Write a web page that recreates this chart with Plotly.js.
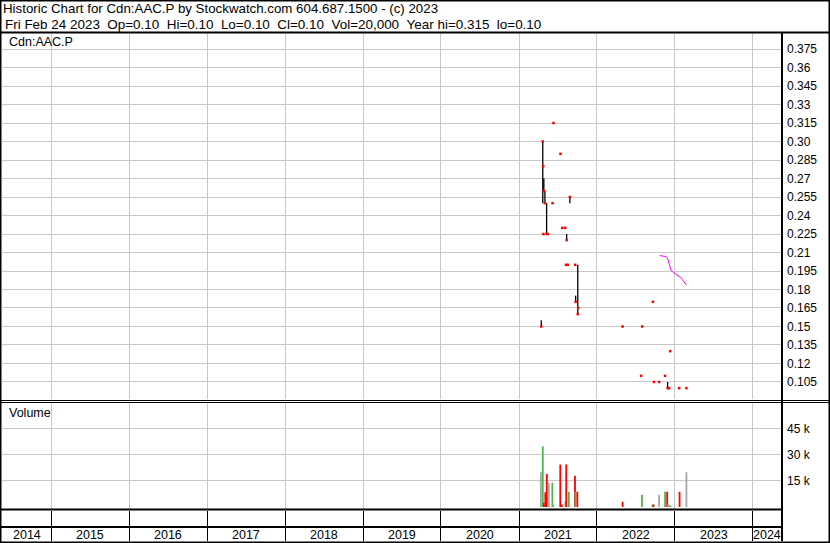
<!DOCTYPE html>
<html><head><meta charset="utf-8">
<script src="https://cdn.plot.ly/plotly-3.0.1.min.js"></script>
<style>html,body{margin:0;padding:0;background:#fff}#chart{width:830px;height:543px}</style>
</head><body><div id="chart"></div>
<script>
// ---------- data ----------
const priceDates = ["2021-04-15","2021-04-22","2021-04-24","2021-04-25","2021-04-27","2021-05-02","2021-05-10","2021-05-15",
  "2021-06-07","2021-06-11","2021-07-14","2021-07-22","2021-08-05","2021-08-09","2021-08-12","2021-08-17","2021-08-27",
  "2021-09-21","2021-09-23","2021-10-03","2021-10-05",
  "2022-05-01","2022-07-27","2022-08-01","2022-09-20","2022-09-25","2022-10-19","2022-11-16","2022-11-28","2022-12-05","2022-12-10",
  "2023-01-21","2023-02-24"];
const priceHigh  = [0.155,0.30,0.28,0.225,0.27,0.26,0.25,0.225,0.25,0.315,0.29,0.23,0.23,0.20,0.225,0.20,0.255,0.20,0.175,0.20,0.165,
  0.15,0.11,0.15,0.17,0.105,0.105,0.11,0.105,0.10,0.13,0.10,0.10];
const priceLow   = [0.15,0.25,0.28,0.225,0.26,0.25,0.225,0.225,0.25,0.315,0.29,0.23,0.23,0.20,0.22,0.20,0.25,0.20,0.169,0.16,0.165,
  0.15,0.11,0.15,0.17,0.105,0.105,0.11,0.10,0.10,0.13,0.10,0.10];
const priceClose = [0.15,0.30,0.28,0.225,0.26,0.25,0.225,0.225,0.25,0.315,0.29,0.23,0.23,0.20,0.22,0.20,0.255,0.20,0.17,0.16,0.165,
  0.15,0.11,0.15,0.17,0.105,0.105,0.11,0.10,0.10,0.13,0.10,0.10];

const maDates  = ["2022-10-21","2022-11-08","2022-11-21","2022-11-29","2022-12-04","2022-12-09","2022-12-13","2022-12-23",
  "2023-01-05","2023-01-16","2023-01-27","2023-02-04","2023-02-11","2023-02-19","2023-02-24"];
const maValues = [0.2075,0.207,0.2067,0.2048,0.2021,0.198,0.1959,0.194,0.1926,0.1915,0.1899,0.1882,0.1866,0.1853,0.1837];

const volDates = ["2021-04-13","2021-04-22","2021-04-27","2021-05-04","2021-05-11","2021-05-20","2021-06-06","2021-06-10",
  "2021-07-13","2021-07-20","2021-08-06","2021-08-10","2021-08-22","2021-09-20","2021-09-22","2021-10-01",
  "2022-05-01","2022-07-31","2022-09-18","2022-09-23","2022-10-19","2022-11-16","2022-11-26","2022-12-01","2022-12-10",
  "2023-01-23","2023-02-24"];
const volValues = [20000,35000,2500,8500,19000,14000,14000,1000,24500,1500,3500,24500,8800,18000,8800,8800,
  3000,7000,1500,1500,7000,8800,8800,1800,1000,8800,20000];
const volDirection = ["flat","up","down","down","down","flat","up","up","down","down","flat","down","up","down","up","down",
  "down","up","up","down","flat","up","down","flat","up","down","flat"];

const priceTickVals = [0.105,0.12,0.135,0.15,0.165,0.18,0.195,0.21,0.225,0.24,0.255,0.27,0.285,0.30,0.315,0.33,0.345,0.36,0.375];
const priceTickText = ["0.105","0.12","0.135","0.15","0.165","0.18","0.195","0.21","0.225","0.24","0.255","0.27","0.285","0.30","0.315","0.33","0.345","0.36","0.375"];
const volTickVals = [15000,30000,45000];
const volTickText = ["15 k","30 k","45 k"];
const yearBoundaries = ["2015-01-01","2016-01-01","2017-01-01","2018-01-01","2019-01-01","2020-01-01","2021-01-01","2022-01-01","2023-01-01","2024-01-01"];
const yearLabels = ["2014","2015","2016","2017","2018","2019","2020","2021","2022","2023","2024"];
const xRange = ["2014-05-15","2024-05-17"];
const infoFields = ["Fri Feb 24 2023","Op=0.10","Hi=0.10","Lo=0.10","Cl=0.10","Vol=20,000","Year hi=0.315","lo=0.10"];

// ---------- helpers ----------
const W = 830, H = 543;
const px = v => v / W;
const py = v => 1 - v / H;
const colorOf = {up:"#4cb84c", down:"#ff0000", flat:"#a6a6a6"};
const DAY = 86400000;

const edges = [xRange[0], ...yearBoundaries, xRange[1]].map(d => new Date(d + "T00:00:00Z").getTime());
const yearMid = yearLabels.map((_, i) => (edges[i] + edges[i + 1]) / 2);

const traces = [
  {type:"bar", x:volDates, y:volValues, xaxis:"x", yaxis:"y2", width:8.5 * DAY,
   marker:{color:volDirection.map(d => colorOf[d]), line:{width:0}}, hoverinfo:"x+y"},
  {type:"scatter", mode:"lines", x:maDates, y:maValues, xaxis:"x", yaxis:"y",
   line:{color:"#ff00ff", width:1}},
  {type:"scatter", mode:"markers", x:priceDates, y:priceClose, xaxis:"x", yaxis:"y",
   marker:{symbol:"square", size:2.5, color:"#ff0000", line:{width:0}},
   error_y:{type:"data", symmetric:false,
     array:priceHigh.map((h, i) => h - priceClose[i]),
     arrayminus:priceClose.map((c, i) => c - priceLow[i]),
     width:0, thickness:1.3, color:"#000"}}
];

const annotations = [
  {text:infoFields.join("\u00a0\u00a0"),
   xref:"paper", yref:"paper", x:px(3), y:py(24.5), xanchor:"left", yanchor:"middle", showarrow:false, font:{size:13.45}},
  {text:"Cdn:AAC.P", xref:"paper", yref:"paper", x:px(7), y:py(42), xanchor:"left", yanchor:"middle", showarrow:false, font:{size:12.5}},
  {text:"Volume", xref:"paper", yref:"paper", x:px(7), y:py(413), xanchor:"left", yanchor:"middle", showarrow:false, font:{size:12.5}}
].concat(yearLabels.map((t, i) => ({text:t, xref:"x2", yref:"paper", x:yearMid[i], y:py(534.5),
   xanchor:"center", yanchor:"middle", showarrow:false, font:{size:12.5}})));

const ln = (x0, y0, x1, y1, w) => ({type:"line", xref:"paper", yref:"paper", x0:x0, y0:y0, x1:x1, y1:y1, line:{color:"#000", width:w}});
const shapes = [
  {type:"rect", xref:"paper", yref:"paper", x0:0, y0:0, x1:1, y1:1, line:{color:"#000", width:3}},
  ln(0, py(32.5), 1, py(32.5), 2),
  ln(0, py(400.5), 1, py(400.5), 1),
  ln(0, py(402.5), 1, py(402.5), 1),
  ln(0, py(509.5), px(782), py(509.5), 2),
  ln(0, py(527), px(782), py(527), 2),
  ln(px(782), py(33), px(782), py(541), 2)
];

const axBase = {fixedrange:true, zeroline:false, showline:false, ticks:""};
const layout = {
  width:W, height:H, margin:{l:0, r:0, t:0, b:0, pad:0},
  paper_bgcolor:"#fff", plot_bgcolor:"#fff", showlegend:false, barmode:"overlay",
  font:{family:"Liberation Sans, Arial, sans-serif", size:12, color:"#000"},
  title:{text:"Historic Chart for Cdn:AAC.P by Stockwatch.com 604.687.1500 - (c) 2023",
    xref:"paper", yref:"paper", x:px(3), xanchor:"left", y:py(8), yanchor:"middle", font:{size:13.3, color:"#000"}},
  xaxis:Object.assign({}, axBase, {domain:[px(2), px(782)], range:xRange, type:"date", anchor:"y2",
    tickvals:yearBoundaries, showticklabels:false, showgrid:true, gridcolor:"#c8c8c8", gridwidth:1}),
  yaxis:Object.assign({}, axBase, {domain:[py(399), py(33)], range:[0.0912, 0.388], side:"right", anchor:"x",
    tickvals:priceTickVals, ticktext:priceTickText, showgrid:true, gridcolor:"#c8c8c8", ticklabelstandoff:4}),
  yaxis2:Object.assign({}, axBase, {domain:[py(508.5), py(403)], range:[-860, 59800], side:"right", anchor:"x",
    tickvals:volTickVals, ticktext:volTickText, showgrid:true, gridcolor:"#c8c8c8", ticklabelstandoff:4}),
  xaxis2:Object.assign({}, axBase, {domain:[px(2), px(782)], range:xRange, type:"date", anchor:"y3",
    tickvals:yearBoundaries, showticklabels:false, showgrid:true, gridcolor:"#000", gridwidth:1}),
  yaxis3:Object.assign({}, axBase, {domain:[py(541), py(511)], range:[0, 1], anchor:"x2",
    showticklabels:false, showgrid:false}),
  annotations:annotations,
  shapes:shapes
};

Plotly.newPlot("chart", traces, layout, {displayModeBar:false, staticPlot:true});
</script>
</body></html>
